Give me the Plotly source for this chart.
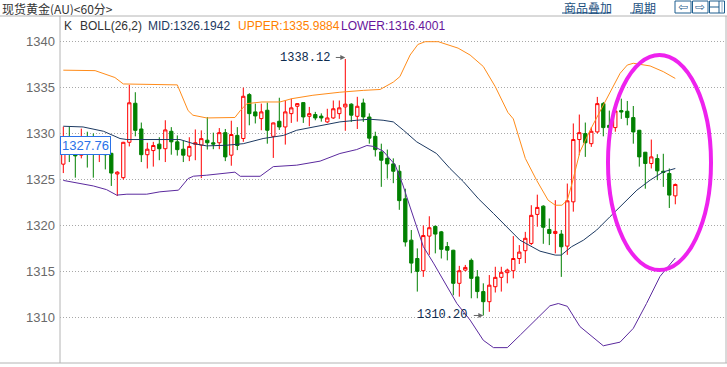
import plotly.graph_objects as go

# ---------------- data ----------------
opens = [1326.67, 1328.6, 1327.83, 1327.65, 1328.6, 1328.3, 1327.9, 1327.9, 1327.85, 1325.6,
         1325.2, 1329.05, 1333.3, 1330.5, 1327.7, 1328.15, 1328.85, 1328.35, 1330.25, 1329.1,
         1328.3, 1327.55, 1328.84, 1328.75, 1329.28, 1329.0, 1329.0, 1330.1, 1327.65, 1329.8,
         1329.46, 1334.24, 1332.36, 1331.63, 1332.54, 1329.7, 1331.34, 1330.72, 1332.17, 1332.97,
         1333.37, 1331.88, 1332.07, 1331.9, 1331.27, 1331.7, 1332.17, 1332.9, 1333.2, 1331.88,
         1333.33, 1331.8, 1329.7, 1328.0, 1327.3, 1326.7, 1325.9, 1322.9, 1318.4, 1316.4,
         1315.07, 1318.84, 1319.9, 1319.3, 1317.7, 1317.3, 1313.7, 1315.14, 1316.2, 1314.4,
         1312.8, 1311.7, 1313.33, 1314.35, 1314.86, 1315.07, 1316.4, 1317.25, 1318.04, 1321.2,
         1322.1, 1319.56, 1319.13, 1319.06, 1317.75, 1322.57, 1329.35, 1330.0, 1328.9, 1330.18,
         1333.26, 1330.9, 1330.65, 1332.5, 1332.43, 1331.74, 1330.36, 1327.97, 1326.74, 1327.28,
         1325.9, 1325.65, 1323.22]
highs = [1330.75, 1330.75, 1329.5, 1330.54, 1330.2, 1330.0, 1329.0, 1329.0, 1327.9, 1325.9,
         1329.1, 1335.3, 1334.5, 1331.2, 1329.0, 1329.1, 1329.6, 1331.45, 1330.7, 1329.8,
         1329.2, 1329.6, 1330.45, 1330.35, 1331.8, 1330.1, 1330.6, 1330.5, 1331.4, 1330.7,
         1335.0, 1334.4, 1333.26, 1333.26, 1333.37, 1331.2, 1333.9, 1333.6, 1333.8, 1333.3,
         1333.4, 1332.9, 1332.36, 1332.2, 1332.7, 1333.6, 1333.6, 1338.12, 1333.3, 1334.0,
         1333.8, 1332.2, 1330.2, 1328.9, 1328.26, 1327.3, 1326.56, 1324.0, 1319.5, 1317.5,
         1320.0, 1321.0, 1320.0, 1319.4, 1318.2, 1317.35, 1315.6, 1315.7, 1316.4, 1315.14,
         1313.7, 1314.6, 1315.5, 1315.5, 1315.3, 1318.84, 1317.86, 1319.3, 1322.2, 1323.35,
         1322.2, 1320.76, 1322.75, 1319.5, 1324.56, 1331.1, 1332.07, 1331.2, 1330.7, 1333.99,
         1333.44, 1332.5, 1332.7, 1333.8, 1333.55, 1333.0, 1330.4, 1328.0, 1329.35, 1327.75,
         1327.8, 1326.2, 1324.56]
lows = [1325.7, 1326.9, 1325.2, 1327.3, 1326.3, 1325.2, 1326.9, 1326.1, 1324.3, 1323.2,
        1325.0, 1328.6, 1329.7, 1326.9, 1326.2, 1326.4, 1327.1, 1326.9, 1327.7, 1327.6,
        1326.9, 1327.0, 1327.1, 1325.15, 1328.26, 1328.3, 1328.3, 1327.0, 1326.5, 1328.2,
        1329.1, 1330.9, 1331.1, 1330.36, 1328.9, 1327.35, 1330.4, 1328.8, 1331.16, 1331.3,
        1331.16, 1330.8, 1331.45, 1331.3, 1331.16, 1331.6, 1331.6, 1330.3, 1331.27, 1330.5,
        1331.27, 1328.9, 1327.5, 1324.2, 1325.1, 1324.6, 1321.7, 1317.7, 1314.8, 1312.8,
        1314.4, 1316.8, 1316.96, 1316.4, 1316.2, 1312.4, 1312.25, 1315.0, 1312.07, 1312.07,
        1310.2, 1310.6, 1312.7, 1312.8, 1313.7, 1314.24, 1315.8, 1315.9, 1317.86, 1319.86,
        1318.0, 1317.86, 1316.96, 1314.4, 1316.8, 1321.5, 1327.65, 1327.46, 1328.55, 1330.0,
        1329.7, 1330.3, 1330.2, 1331.6, 1330.9, 1328.9, 1326.4, 1324.0, 1326.2, 1324.93,
        1324.2, 1321.9, 1322.3]
closes = [1327.85, 1328.2, 1327.57, 1327.85, 1328.0, 1327.9, 1328.4, 1327.7, 1325.7, 1325.8,
          1329.05, 1333.35, 1330.35, 1327.7, 1328.3, 1328.7, 1328.35, 1330.4, 1329.1, 1328.25,
          1327.65, 1328.6, 1329.0, 1329.45, 1329.0, 1328.85, 1330.1, 1327.46, 1329.9, 1328.7,
          1334.06, 1332.17, 1331.92, 1332.36, 1330.36, 1331.16, 1330.72, 1332.36, 1332.8, 1333.26,
          1331.81, 1332.17, 1331.7, 1331.7, 1331.7, 1332.7, 1332.8, 1333.2, 1332.0, 1332.97,
          1331.81, 1329.5, 1328.25, 1327.1, 1326.7, 1325.9, 1322.7, 1318.2, 1315.9, 1315.0,
          1318.9, 1319.75, 1319.06, 1317.4, 1317.3, 1313.7, 1315.07, 1315.43, 1314.24, 1312.8,
          1311.7, 1313.5, 1314.35, 1314.9, 1315.14, 1316.4, 1317.1, 1318.6, 1321.1, 1321.96,
          1319.8, 1319.13, 1319.35, 1317.68, 1322.68, 1329.35, 1330.1, 1329.0, 1330.25, 1333.26,
          1330.65, 1330.65, 1332.46, 1332.35, 1331.74, 1330.18, 1327.46, 1326.74, 1327.46, 1325.94,
          1325.76, 1323.3, 1324.46]

upper_x = [0, 4, 5.3, 8.6, 10, 19, 20.8, 21.6, 23.9, 28.6, 29.5, 30.6, 33.1, 36.1, 38.1, 41.6,
           46.1, 50, 52.8, 55, 56.1, 57.8, 59.1, 60.3, 62.5, 65.8, 67.8, 70, 72, 74.1, 75, 77,
           78.9, 80.8, 82, 83.1, 84, 84.8, 86.1, 87.8, 89.5, 91.1, 92.8, 94, 95, 97.8, 100, 102]
upper_y = [1336.9, 1336.85, 1336.85, 1336.1, 1335.4, 1335.3, 1332.5, 1332.0, 1331.7, 1331.75,
           1332.5, 1333.26, 1333.44, 1333.44, 1333.8, 1334.17, 1334.5, 1334.7, 1334.8, 1335.6,
           1336.2, 1338.55, 1339.7, 1340.0, 1340.0, 1339.3, 1338.55, 1337.3, 1335.1, 1332.3,
           1331.6, 1327.3, 1324.9, 1322.75, 1322.2, 1322.2, 1322.75, 1324.6, 1328.0, 1330.36,
           1332.5, 1334.5, 1336.56, 1337.46, 1337.65, 1337.36, 1336.74, 1336.0]

mid_x = [0, 1.1, 3.3, 6.7, 9.45, 10.6, 19.45, 21.7, 23.9, 27.2, 30, 33.3, 36.7, 38.9, 42.2,
         46.1, 48.9, 51.1, 53.3, 55, 56.7, 58.9, 62.2, 64.45, 66.7, 69.2, 71.7, 74.1, 76.1,
         79.45, 82, 83, 84.7, 86.7, 88.9, 91.1, 93.3, 95.6, 97.8, 100, 102]
mid_y = [1330.8, 1330.8, 1330.72, 1330.25, 1329.46, 1329.35, 1329.35, 1328.9, 1328.66, 1328.73,
         1328.9, 1329.46, 1329.8, 1330.36, 1330.8, 1331.27, 1331.45, 1331.56, 1331.45, 1331.27,
         1330.36, 1329.1, 1327.83, 1326.2, 1324.75, 1322.9, 1321.3, 1319.67, 1318.4, 1317.2,
         1316.77, 1316.77, 1317.68, 1318.4, 1319.5, 1320.94, 1322.4, 1323.84, 1324.93, 1325.83,
         1326.2]

lower_x = [0, 2.2, 5, 7.2, 8.9, 10.6, 13.9, 16.1, 19.2, 20.8, 21.7, 23.9, 27.2, 28.6, 29.5,
           32.8, 35, 38.9, 42.8, 46.1, 48.9, 50.6, 51.7, 53.3, 55.3, 56.6, 57.8, 58.9, 60,
           61.7, 63.3, 65.6, 67.8, 70, 71.7, 74, 76.2, 78.9, 81.1, 82.5, 84, 86.1, 87.8, 90,
           92.8, 95, 97.2, 99.45, 102]
lower_y = [1324.9, 1324.6, 1324.3, 1323.9, 1323.3, 1323.4, 1323.4, 1323.66, 1323.84, 1325.1,
           1325.36, 1325.47, 1325.7, 1325.8, 1325.35, 1325.35, 1326.4, 1326.56, 1327.0, 1327.83,
           1328.26, 1328.7, 1328.6, 1328.1, 1326.6, 1324.4, 1322.0, 1319.86, 1317.7, 1315.9,
           1314.06, 1311.5, 1309.7, 1307.5, 1306.7, 1306.7, 1308.1, 1309.8, 1311.25, 1311.5,
           1311.2, 1309.0, 1308.1, 1306.9, 1307.3, 1308.8, 1311.5, 1314.45, 1316.46]

y_ticks = [1310, 1315, 1320, 1325, 1330, 1335, 1340]
title_text = "现货黄金(AU)&lt;60分&gt;"
boll_name = "BOLL(26,2)"
mid_last, upper_last, lower_last = "1326.1942", "1335.9884", "1316.4001"
label_value = "1327.76"

# ---------------- geometry helpers ----------------
W, H = 727, 367
ML, MR, MT, MB = 60, 1, 16, 4
PW, PH = W - ML - MR, H - MT - MB


def px(xp):
    return (xp - ML) / PW


def py(yp):
    return (H - MB - yp) / PH


n = len(opens)
xs = list(range(n))

fig = go.Figure()
fig.add_trace(go.Candlestick(
    x=xs, open=opens, high=highs, low=lows, close=closes,
    increasing=dict(line=dict(color="#ff0000", width=1), fillcolor="#ffffff"),
    decreasing=dict(line=dict(color="#008000", width=1), fillcolor="#008000"),
    whiskerwidth=0, hoverinfo="skip", showlegend=False,
))
fig.add_trace(go.Scatter(x=upper_x, y=upper_y, mode="lines",
                         line=dict(color="#ff8c1a", width=1), showlegend=False, hoverinfo="skip"))
fig.add_trace(go.Scatter(x=mid_x, y=mid_y, mode="lines",
                         line=dict(color="#1d3a62", width=1), showlegend=False, hoverinfo="skip"))
fig.add_trace(go.Scatter(x=lower_x, y=lower_y, mode="lines",
                         line=dict(color="#5b2a9e", width=1), showlegend=False, hoverinfo="skip"))

shapes = []
frame = "#b4b4b4"
# frame lines
shapes.append(dict(type="line", xref="paper", yref="paper", x0=px(0), x1=px(W), y0=py(16), y1=py(16),
                   line=dict(color=frame, width=1)))
shapes.append(dict(type="line", xref="paper", yref="paper", x0=px(0), x1=px(W), y0=py(363), y1=py(363),
                   line=dict(color=frame, width=1)))
shapes.append(dict(type="line", xref="paper", yref="paper", x0=px(60), x1=px(60), y0=py(16), y1=py(363),
                   line=dict(color=frame, width=1)))
shapes.append(dict(type="line", xref="paper", yref="paper", x0=px(726), x1=px(726), y0=py(16), y1=py(363),
                   line=dict(color=frame, width=1)))
# magenta ellipse
shapes.append(dict(type="circle", xref="paper", yref="paper",
                   x0=px(608), x1=px(711), y0=py(270), y1=py(55),
                   line=dict(color="#ee22ee", width=4)))
# link underlines
link = "#1b4f80"
shapes.append(dict(type="line", xref="paper", yref="paper", x0=px(562), x1=px(610), y0=py(13), y1=py(13),
                   line=dict(color=link, width=1)))
shapes.append(dict(type="line", xref="paper", yref="paper", x0=px(630), x1=px(654), y0=py(13), y1=py(13),
                   line=dict(color=link, width=1)))
# buttons
btn = "#1f5f8f"
for bx0, bx1 in [(675, 691), (692.5, 708), (709.5, 724.5)]:
    shapes.append(dict(type="rect", xref="paper", yref="paper", x0=px(bx0), x1=px(bx1), y0=py(13), y1=py(1),
                       line=dict(color=btn, width=1), fillcolor="#ffffff"))
shapes.append(dict(type="line", xref="paper", yref="paper", x0=px(709.5), x1=px(719), y0=py(7), y1=py(7),
                   line=dict(color=btn, width=1)))
shapes.append(dict(type="line", xref="paper", yref="paper", x0=px(719), x1=px(719), y0=py(1), y1=py(13),
                   line=dict(color=btn, width=1)))
shapes.append(dict(type="line", xref="paper", yref="paper", x0=px(722), x1=px(722), y0=py(2.5), y1=py(11.5),
                   line=dict(color=btn, width=1, dash="1px,1px")))

ann = []
ann.append(dict(xref="paper", yref="paper", x=px(0), y=py(8), xanchor="left", yanchor="middle",
                text=title_text, showarrow=False, height=14,
                font=dict(family="Noto Sans CJK SC", size=12, color="#333333")))
leg_font = "Liberation Sans"
for xp, txt, col in [(62, "K", "#333333"), (78, boll_name, "#333333"),
                     (146, "MID:" + mid_last, "#1d3a62"),
                     (236, "UPPER:" + upper_last, "#ff7f00"),
                     (339, "LOWER:" + lower_last, "#66149a")]:
    ann.append(dict(xref="paper", yref="paper", x=px(xp), y=py(26), xanchor="left", yanchor="middle",
                    text=txt, showarrow=False, font=dict(family=leg_font, size=12, color=col)))
ann.append(dict(xref="paper", yref="paper", x=px(562), y=py(7.5), xanchor="left", yanchor="middle",
                text="商品叠加", showarrow=False, height=13,
                font=dict(family="Noto Sans CJK SC", size=12, color=link)))
ann.append(dict(xref="paper", yref="paper", x=px(630), y=py(7.5), xanchor="left", yanchor="middle",
                text="周期", showarrow=False, height=13,
                font=dict(family="Noto Sans CJK SC", size=12, color=link)))
for cx, sym in [(683, "⇦"), (700.3, "⇨")]:
    ann.append(dict(xref="paper", yref="paper", x=px(cx), y=py(7), xanchor="center", yanchor="middle",
                    text=sym, showarrow=False, height=12,
                    font=dict(family="DejaVu Sans", size=12, color=btn)))

# high / low markers
i_hi = max(range(n), key=lambda i: highs[i])
i_lo = min(range(n), key=lambda i: lows[i])
mono = dict(family="Liberation Mono", size=12, color="#0d2b4e")
ann.append(dict(x=i_hi, y=highs[i_hi], xref="x", yref="y", text=f"{highs[i_hi]:.2f}", showarrow=False,
                xanchor="right", yanchor="middle", xshift=-13, yshift=1, font=mono))
ann.append(dict(x=i_hi, y=highs[i_hi], xref="x", yref="y", text="", showarrow=True, ax=-11, ay=0,
                arrowhead=2, arrowsize=1, arrowwidth=1, arrowcolor="#666666", yshift=1.5, standoff=0))
ann.append(dict(x=i_lo, y=lows[i_lo], xref="x", yref="y", text=f"{lows[i_lo]:.2f}", showarrow=False,
                xanchor="right", yanchor="middle", xshift=-14, yshift=0, font=mono))
ann.append(dict(x=i_lo, y=lows[i_lo], xref="x", yref="y", text="", showarrow=True, ax=-11, ay=0,
                arrowhead=2, arrowsize=1, arrowwidth=1, arrowcolor="#666666", standoff=0))
# price label box
ann.append(dict(xref="paper", yref="paper", x=px(60), y=py(145), xanchor="left", yanchor="middle",
                text=label_value, showarrow=False, bgcolor="#ffffff", bordercolor="#2a72e8",
                borderwidth=1, borderpad=1,
                font=dict(family="Liberation Sans", size=13, color="#2a72e8")))

y_top = 1340 + (41.7 - MT) / 9.187
y_bot = y_top - PH / 9.187
x_left = -(63.3 - ML) / 6.0
x_right = x_left + PW / 6.0

fig.update_layout(
    width=W, height=H, margin=dict(l=ML, r=MR, t=MT, b=MB, pad=0),
    paper_bgcolor="#ffffff", plot_bgcolor="#ffffff",
    font=dict(family="Liberation Sans", size=12, color="#666666"),
    showlegend=False, boxgap=0.22,
    shapes=shapes, annotations=ann,
    xaxis=dict(range=[x_left, x_right], showgrid=False, zeroline=False, showticklabels=False,
               ticks="", showline=False, rangeslider=dict(visible=False), fixedrange=True),
    yaxis=dict(range=[y_bot, y_top], tickvals=y_ticks, ticktext=[str(v) for v in y_ticks],
               showgrid=True, gridcolor="#a8a8a8", griddash="1px,2px", gridwidth=1,
               zeroline=False, ticks="", showline=False, ticklabelstandoff=4,
               tickfont=dict(family="Liberation Sans", size=13, color="#6a6a6a"), fixedrange=True),
)

fig.write_html("out.html", post_script="document.body.style.margin='0';",
               config={"displayModeBar": False})
